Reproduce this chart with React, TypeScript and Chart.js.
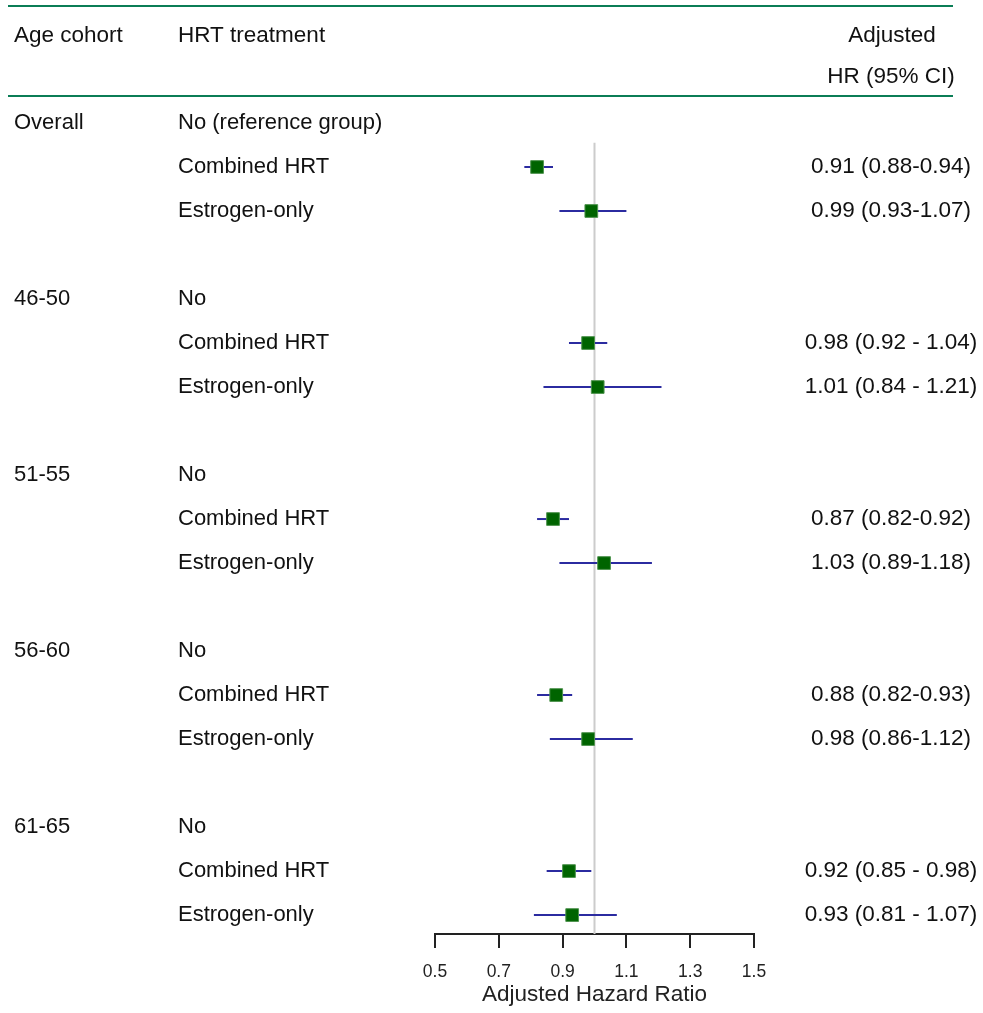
import React, { useEffect, useRef } from "react";
import { Chart, registerables } from "chart.js";

Chart.register(...registerables);

const FONT = "'Liberation Sans', Arial, sans-serif";

const cohorts = ["Overall", "46-50", "51-55", "56-60", "61-65"];
const noLabels = ["No (reference group)", "No", "No", "No", "No"];
const combinedLabel = "Combined HRT";
const estrogenLabel = "Estrogen-only";

const combinedText = ["0.91 (0.88-0.94)", "0.98 (0.92 - 1.04)", "0.87 (0.82-0.92)", "0.88 (0.82-0.93)", "0.92 (0.85 - 0.98)"];
const estrogenText = ["0.99 (0.93-1.07)", "1.01 (0.84 - 1.21)", "1.03 (0.89-1.18)", "0.98 (0.86-1.12)", "0.93 (0.81 - 1.07)"];

// plotted values
const combinedEst = [0.82, 0.98, 0.87, 0.88, 0.92];
const combinedLow = [0.78, 0.92, 0.82, 0.82, 0.85];
const combinedHigh = [0.87, 1.04, 0.92, 0.93, 0.99];
const estrogenEst = [0.99, 1.01, 1.03, 0.98, 0.93];
const estrogenLow = [0.89, 0.84, 0.89, 0.86, 0.81];
const estrogenHigh = [1.1, 1.21, 1.18, 1.12, 1.07];

const tickValues = [0.5, 0.7, 0.9, 1.1, 1.3, 1.5];
const referenceValue = 1.0;

const rowNo = (g: number) => g * 4;
const rowCombined = (g: number) => g * 4 + 1;
const rowEstrogen = (g: number) => g * 4 + 2;

export default function App() {
  const ref = useRef<HTMLCanvasElement | null>(null);

  useEffect(() => {
    if (!ref.current) return;

    const ciDatasets: any[] = [];
    cohorts.forEach((_, g) => {
      ciDatasets.push({
        type: "line",
        data: [
          { x: combinedLow[g], y: rowCombined(g) },
          { x: combinedHigh[g], y: rowCombined(g) },
        ],
        borderColor: "#2b2ba0",
        borderWidth: 2,
        pointRadius: 0,
        order: 2,
      });
      ciDatasets.push({
        type: "line",
        data: [
          { x: estrogenLow[g], y: rowEstrogen(g) },
          { x: estrogenHigh[g], y: rowEstrogen(g) },
        ],
        borderColor: "#2b2ba0",
        borderWidth: 2,
        pointRadius: 0,
        order: 2,
      });
    });

    const markers: any[] = [];
    cohorts.forEach((_, g) => {
      markers.push({ x: combinedEst[g], y: rowCombined(g) });
      markers.push({ x: estrogenEst[g], y: rowEstrogen(g) });
    });

    const tablePlugin = {
      id: "table",
      afterDraw(chart: any) {
        const ctx = chart.ctx as CanvasRenderingContext2D;
        const y = chart.scales.y;
        ctx.save();
        ctx.strokeStyle = "#0b7d56";
        ctx.lineWidth = 2;
        ctx.beginPath();
        ctx.moveTo(8, 6);
        ctx.lineTo(953, 6);
        ctx.moveTo(8, 96);
        ctx.lineTo(953, 96);
        ctx.stroke();

        ctx.fillStyle = "#111";
        ctx.textBaseline = "middle";
        ctx.font = `22.5px ${FONT}`;
        ctx.textAlign = "left";
        ctx.fillText("Age cohort", 14, 36);
        ctx.fillText("HRT treatment", 178, 36);
        ctx.textAlign = "center";
        ctx.fillText("Adjusted", 892, 36);
        ctx.fillText("HR (95% CI)", 891, 77);

        cohorts.forEach((c, g) => {
          ctx.textAlign = "left";
          ctx.font = `22px ${FONT}`;
          const y0 = y.getPixelForValue(rowNo(g));
          const y1 = y.getPixelForValue(rowCombined(g));
          const y2 = y.getPixelForValue(rowEstrogen(g));
          ctx.fillText(c, 14, y0);
          ctx.fillText(noLabels[g], 178, y0);
          ctx.fillText(combinedLabel, 178, y1);
          ctx.fillText(estrogenLabel, 178, y2);
          ctx.textAlign = "center";
          ctx.font = `22.5px ${FONT}`;
          ctx.fillText(combinedText[g], 891, y1);
          ctx.fillText(estrogenText[g], 891, y2);
        });
        ctx.restore();
      },
    };

    const chart = new Chart(ref.current, {
      type: "scatter",
      data: {
        datasets: [
          {
            type: "scatter",
            data: markers,
            pointStyle: "rect",
            pointRadius: 9,
            backgroundColor: "#006400",
            borderColor: "#4f944f",
            borderWidth: 1,
            order: 0,
          },
          ...ciDatasets,
          {
            type: "line",
            data: [
              { x: referenceValue, y: 0.45 },
              { x: referenceValue, y: 18.43 },
            ],
            borderColor: "#cccccc",
            borderWidth: 2,
            pointRadius: 0,
            order: 3,
          },
        ],
      } as any,
      plugins: [tablePlugin],
      options: {
        responsive: false,
        animation: false,
        devicePixelRatio: 1,
        layout: { padding: { top: 101, left: 435, right: 229, bottom: 0 } },
        plugins: { legend: { display: false }, tooltip: { enabled: false } },
        scales: {
          x: {
            type: "linear",
            min: 0.5,
            max: 1.5,
            afterBuildTicks: (s: any) => {
              s.ticks = tickValues.map((v) => ({ value: v }));
            },
            afterFit: (s: any) => {
              s.height = 79;
            },
            ticks: {
              callback: (v: any) => Number(v).toFixed(1),
              font: { family: FONT, size: 17.5 },
              color: "#222",
              padding: 14,
              autoSkip: false,
              maxRotation: 0,
            },
            grid: {
              display: true,
              drawOnChartArea: false,
              drawTicks: true,
              tickLength: 14,
              color: "#222",
              lineWidth: 2,
            },
            border: { display: true, color: "#222", width: 2 },
            title: {
              display: true,
              text: "Adjusted Hazard Ratio",
              font: { family: FONT, size: 22.5 },
              color: "#222",
              padding: { top: 4, bottom: 5 },
            },
          },
          y: {
            type: "linear",
            display: false,
            reverse: true,
            min: -0.5,
            max: 18.43,
          },
        },
      } as any,
    });
    return () => chart.destroy();
  }, []);

  return (
    <div style={{ position: "absolute", left: 0, top: 0, width: 983, height: 1013, background: "#fff" }}>
      <canvas ref={ref} width={983} height={1013} style={{ width: 983, height: 1013 }} />
    </div>
  );
}
